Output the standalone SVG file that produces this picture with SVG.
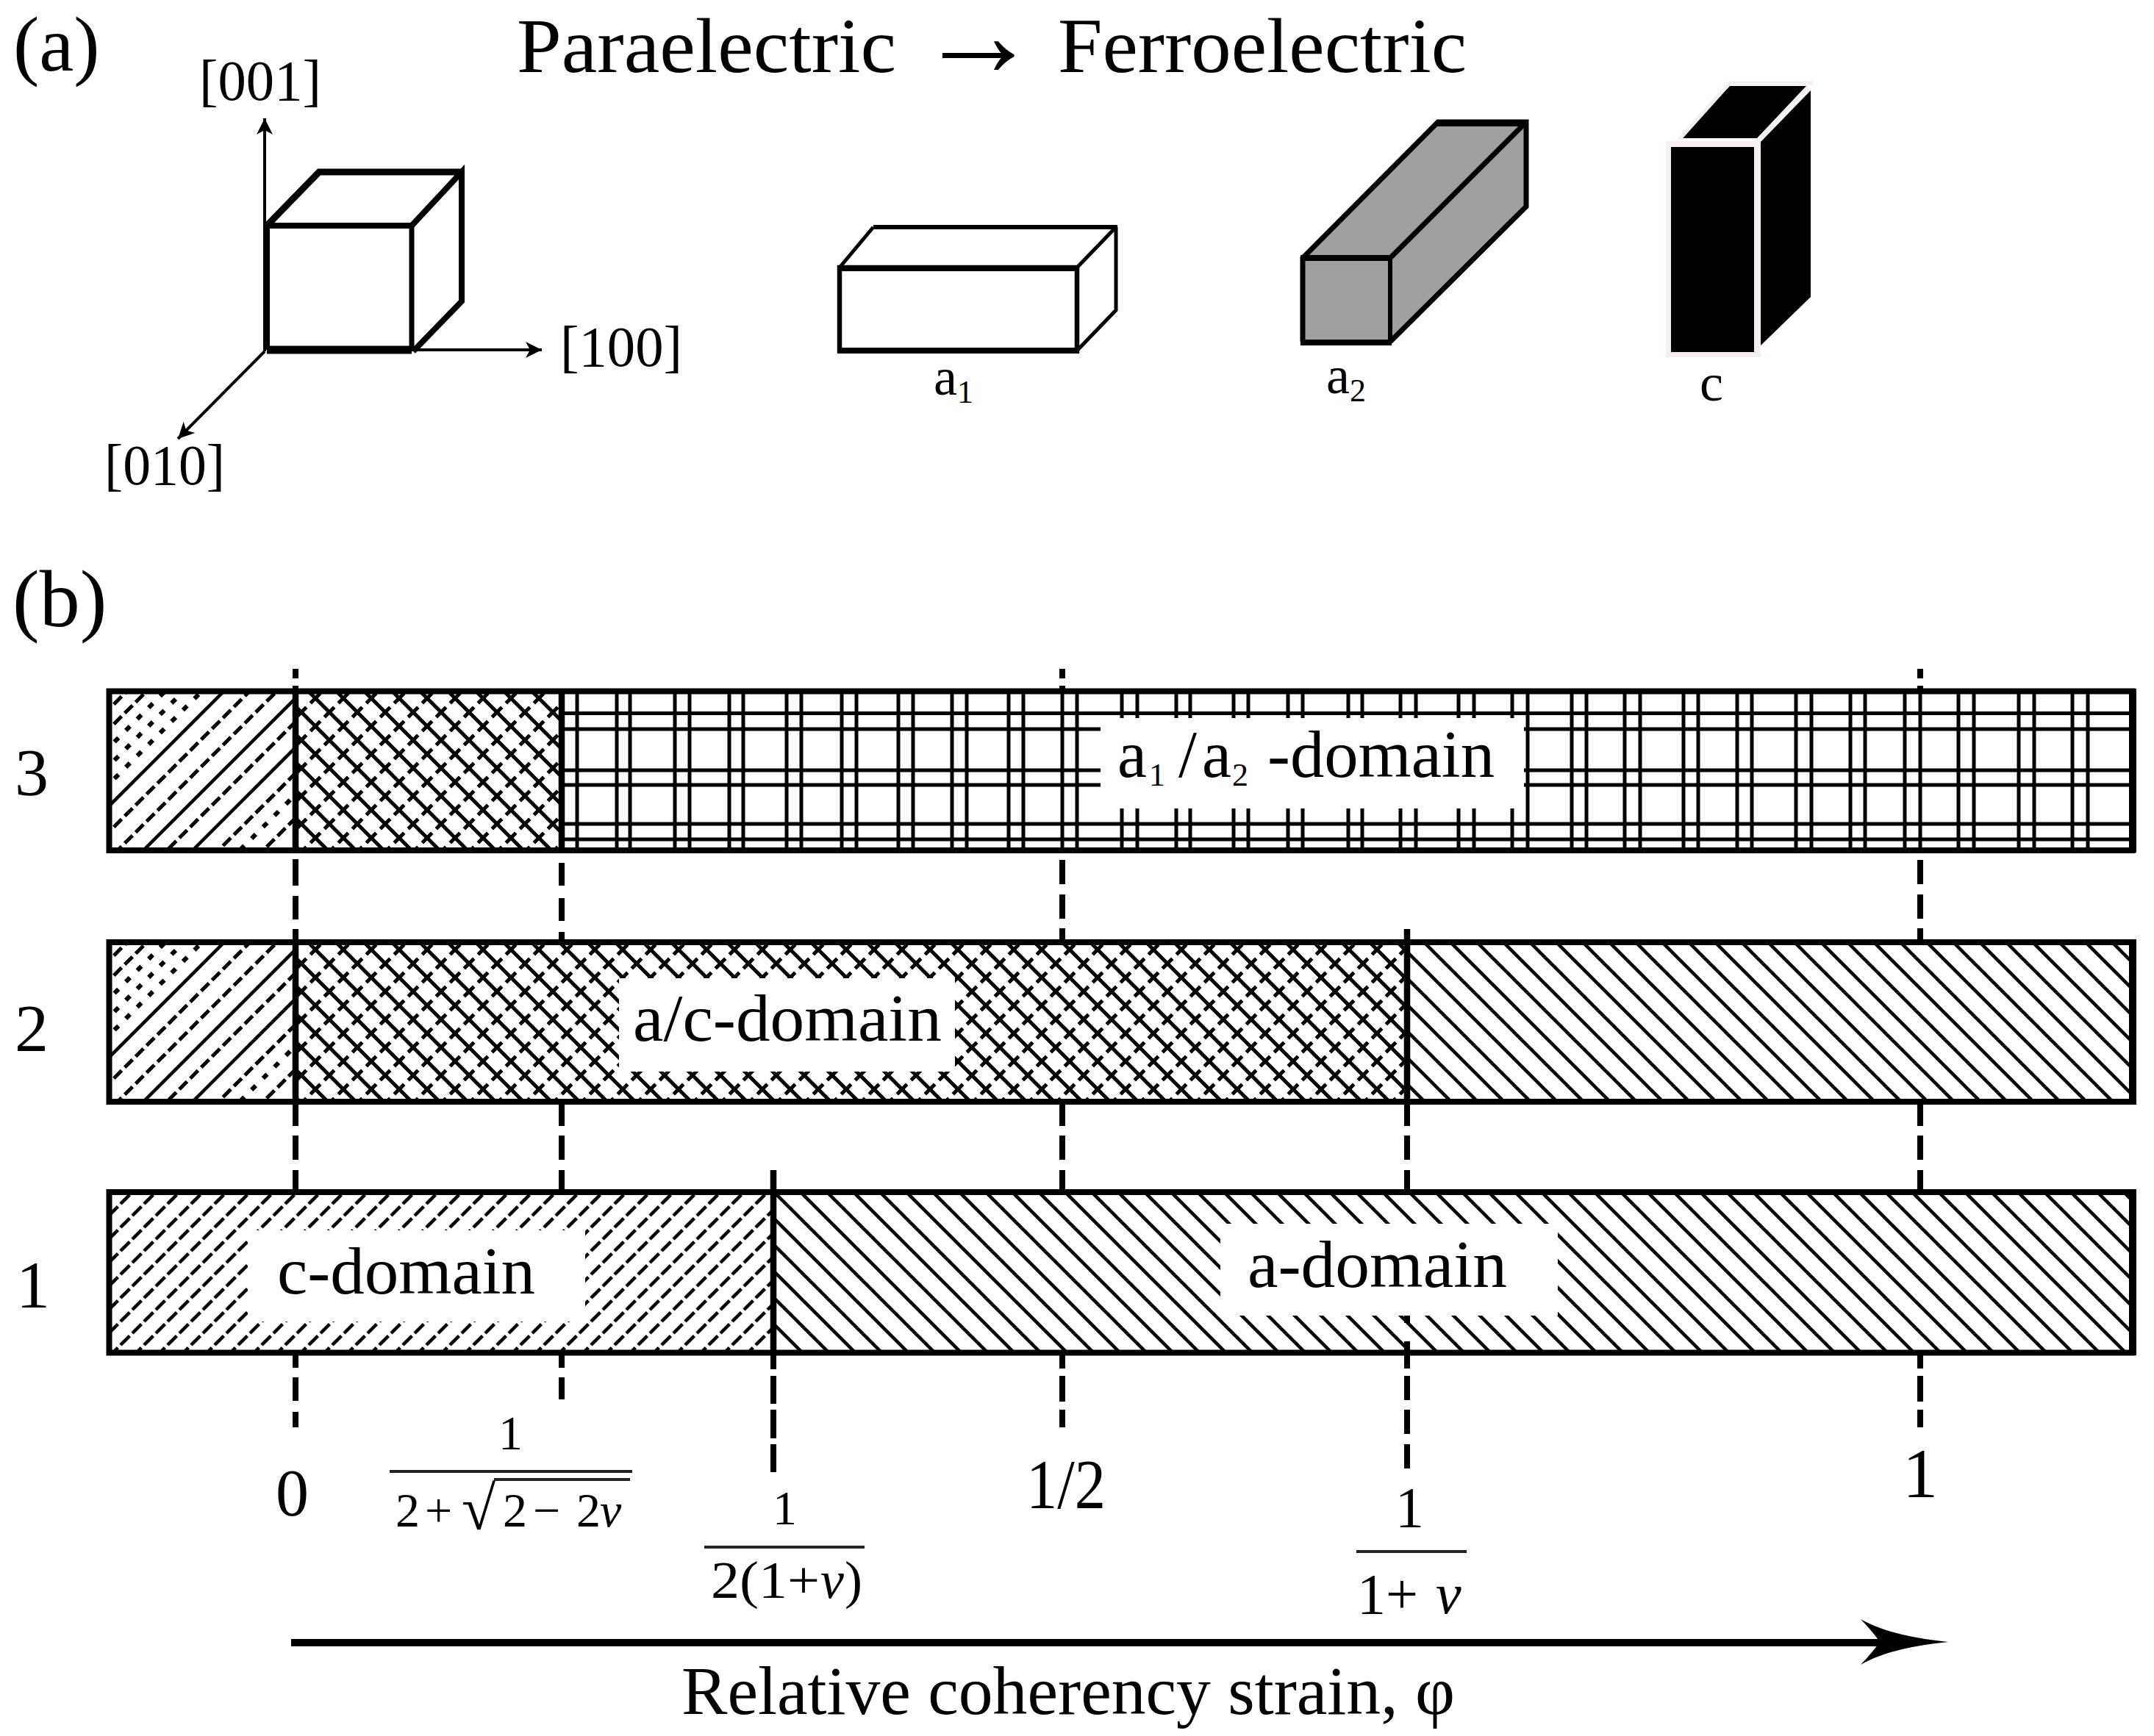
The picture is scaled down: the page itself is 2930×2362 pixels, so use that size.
<svg xmlns="http://www.w3.org/2000/svg" xmlns:xlink="http://www.w3.org/1999/xlink" width="2930" height="2362" viewBox="0 0 2930 2362">
<style>
text{font-family:"Liberation Serif","Times New Roman",serif;fill:#000}
.it{font-style:italic}
.edge{fill:none;stroke:#000;stroke-width:8.5}
.bar{fill:none;stroke:#000;stroke-width:8}
.wh{fill:#fff;stroke:none}
.ax{fill:none;stroke:#000;stroke-width:4}
.grid{fill:none;stroke:#000;stroke-width:5}
.sol{stroke:#000;stroke-width:4.5;fill:none}
.das{stroke:#000;stroke-width:5;fill:none;stroke-dasharray:15 6}
.dot{stroke:#000;stroke-width:6;fill:none;stroke-dasharray:8 14}
.dv{fill:none;stroke:#000;stroke-width:8}
.fr{stroke:#222;stroke-width:4;fill:none}
.cube{stroke:#000;fill:none;stroke-linejoin:miter}
</style>
<defs>
<marker id="tip" markerUnits="userSpaceOnUse" markerWidth="26" markerHeight="26" refX="22" refY="12" orient="auto" viewBox="0 0 26 24"><path d="M0,1 L22,12 L0,23 L6,12z" fill="#000"/></marker>
<pattern id="hBack" width="36" height="36" patternUnits="userSpaceOnUse" patternTransform="translate(7 0)"><path d="M0,0L36,36M-4,32L4,40M32,-4L40,4" stroke="#000" stroke-width="4.5" fill="none"/></pattern>
<pattern id="hFwd" width="32" height="32" patternUnits="userSpaceOnUse" patternTransform="translate(4 6)"><path d="M0,32L32,0" stroke="#000" stroke-width="4.5" fill="none" stroke-dasharray="17.6 5"/><path d="M0,0L4,-4M32,32L36,28" stroke="#000" stroke-width="4.5" fill="none"/></pattern>
<pattern id="hCross" width="38" height="38" patternUnits="userSpaceOnUse" patternTransform="translate(11 0)"><path d="M0,0L38,38M-4,34L4,42M34,-4L42,4" stroke="#000" stroke-width="5" fill="none"/><path d="M0,38L38,0" stroke="#000" stroke-width="5" fill="none" stroke-dasharray="19 7.87" stroke-dashoffset="9.5"/><path d="M-4,4L4,-4M34,42L42,34" stroke="#000" stroke-width="5" fill="none"/></pattern>
<clipPath id="leftClip"><rect x="152" y="944" width="246" height="209"/></clipPath>
<g id="leftHatch" clip-path="url(#leftClip)">
<path class="das" d="M140,973L410,703M140,1000L410,730"/>
<path class="dot" d="M140,1025L410,755M140,1050L410,780M140,1075L410,805"/>
<path class="sol" d="M140,1105L410,835"/>
<path class="das" d="M140,1140L410,870M140,1177L410,907"/>
<path class="sol" d="M140,1212L410,942"/>
<path class="das" d="M140,1244L410,974"/>
<path class="sol" d="M140,1279L410,1009"/>
<path class="das" d="M140,1314L410,1044"/>
<path class="dot" d="M140,1343L410,1073"/>
<path class="das" d="M140,1375L410,1105"/>
</g>
</defs>
<rect width="2930" height="2362" fill="#fff"/>

<g id="panel-a-labels">
<text x="18" y="96" font-size="106">(a)</text>
<text x="703" y="98" font-size="106" textLength="516" lengthAdjust="spacingAndGlyphs">Paraelectric</text>
<text x="1248" y="103" font-size="165" textLength="165" lengthAdjust="spacingAndGlyphs">→</text>
<text x="1439" y="98" font-size="106" textLength="556" lengthAdjust="spacingAndGlyphs">Ferroelectric</text>
</g>

<g id="connectors">
<path class="ax" d="M360,478V161" marker-end="url(#tip)"/>
<path class="ax" d="M556,476H737" marker-end="url(#tip)"/>
<path class="ax" d="M360,478L242,597" marker-end="url(#tip)"/>
<path id="strain-axis" d="M396,2235H2560" stroke="#000" stroke-width="10" fill="none"/>
<path id="strain-head" d="M2531,2203Q2570,2226 2650,2234Q2570,2242 2531,2265Q2548,2247 2557,2234Q2548,2221 2531,2203z" fill="#000"/>
<path class="dv" d="M402,910V923M402,933V940M402,1169V1205M402,1219V1251M402,1264V1282M402,1499V1532M402,1545V1578M402,1592V1622M402,1841V1861M402,1874V1906M402,1921V1942"/>
<path class="dv" d="M764,1174V1205M764,1222V1253M764,1268V1282M764,1499V1532M764,1545V1578M764,1592V1622M764,1841V1861M764,1874V1904"/>
<path class="dv" d="M1445,910V923M1445,933V940M1445,1170V1203M1445,1217V1250M1445,1263V1282M1445,1499V1532M1445,1545V1578M1445,1592V1622M1445,1841V1862M1445,1872V1907M1445,1918V1942"/>
<path class="dv" d="M2612,910V923M2612,933V940M2612,1170V1203M2612,1217V1250M2612,1263V1282M2612,1499V1532M2612,1545V1578M2612,1592V1622M2612,1841V1862M2612,1872V1907M2612,1918V1942"/>
<path class="dv" d="M1914,1499V1532M1914,1545V1578M1914,1592V1622M1914,1790V1800M1914,1825V1841M1914,1841V1862M1914,1872V1905M1914,1918V1951M1914,1965V1998"/>
<path class="dv" d="M1052,1841V1863M1052,1872V1910M1052,1918V1957M1052,1965V2003"/>
</g>

<g id="cube-paraelectric">
<path class="cube" stroke-width="8" d="M363,476V307H560"/>
<path class="cube" stroke-width="7" d="M560,307V476"/>
<path class="cube" stroke-width="11" d="M363,476H560"/>
<path class="cube" stroke-width="9" d="M363,307L434,234H628"/>
<path class="cube" stroke-width="8" d="M560,307L628,234V410L562,478"/>
</g>
<text id="label-001" x="271" y="136" font-size="78" textLength="166" lengthAdjust="spacingAndGlyphs">[001]</text>
<text id="label-100" x="762" y="498" font-size="78" textLength="166" lengthAdjust="spacingAndGlyphs">[100]</text>
<text id="label-010" x="142" y="659" font-size="78" textLength="164" lengthAdjust="spacingAndGlyphs">[010]</text>

<g id="cell-a1">
<path class="cube" stroke-width="5" d="M1142,364L1188,309M1518,309V422L1465,477M1465,364L1518,309"/>
<path class="cube" stroke-width="6" d="M1188,309H1520"/>
<rect x="1142" y="364" width="323" height="113" fill="none" stroke="#000" stroke-width="6.5"/>
<path stroke="#000" stroke-width="8" d="M1139,365H1468M1139,477H1468"/>
<text x="1270" y="537" font-size="72">a</text><text x="1302" y="548" font-size="44">1</text>
</g>

<g id="cell-a2">
<path d="M1772,351L1956,166H2076V281L1891,465H1772z" fill="#a0a0a0"/>
<path class="cube" stroke-width="7" d="M1772,465V351L1956,166H2076V281L1891,465M1891,351L2076,166"/>
<path class="cube" stroke-width="6" d="M1772,351H1891V465"/>
<path stroke="#000" stroke-width="8" d="M1769,466H1893M1769,351H1893M1953,168H2078"/>
<text x="1804" y="535" font-size="72">a</text><text x="1836" y="546" font-size="44">2</text>
</g>

<g id="cell-c">
<path d="M2266,192H2395V486H2266z" fill="#f5efef"/>
<path d="M2353,117H2457L2390,188H2284z" fill="#000"/>
<path d="M2273,200H2386V479H2273z" fill="#000"/>
<path d="M2395,193L2463,123V404L2395,470z" fill="#000"/>
<path d="M2284,190L2353,113H2466M2460,118L2392,190M2390,190V478" fill="none" stroke="#f5efef" stroke-width="5"/>
<text x="2312" y="545" font-size="72">c</text>
</g>

<text id="panel-b" x="17" y="852" font-size="110">(b)</text>

<g id="bar-3">
<use xlink:href="#leftHatch" href="#leftHatch"/>
<rect x="406" y="944" width="354" height="209" fill="url(#hCross)"/>
<path class="grid" d="M764,970.5H2896M764,992H2896M764,1048H2896M764,1068H2896M764,1121H2896M764,1142H2896"/>
<path class="grid" d="M785,944V1153M839,944V1153M857,944V1153M918,944V1153M938,944V1153M992,944V1153M1011,944V1153M1070,944V1153M1090,944V1153M1145,944V1153M1165,944V1153M1222,944V1153M1242,944V1153M1295,944V1153M1315,944V1153M1372,944V1153M1392,944V1153M1445,944V1153M1465,944V1153M1526,944V1153M1547,944V1153M1600,944V1153M1619,944V1153M1678,944V1153M1698,944V1153M1752,944V1153M1772,944V1153M1834,944V1153M1853,944V1153M1905,944V1153M1926,944V1153M1984,944V1153M2005,944V1153M2057,944V1153M2078,944V1153M2138,944V1153M2158,944V1153M2210,944V1153M2231,944V1153M2290,944V1153M2310,944V1153M2363,944V1153M2383,944V1153M2443,944V1153M2464,944V1153M2517,944V1153M2537,944V1153M2591,944V1153M2612,944V1153M2664,944V1153M2685,944V1153M2746,944V1153M2767,944V1153M2819,944V1153M2840,944V1153"/>
<rect class="wh" x="1497" y="977" width="576" height="123"/>
<rect class="bar" x="148.5" y="940.5" width="2752" height="216.5"/>
<path d="M2901,937V1160" stroke="#000" stroke-width="10"/>
<path class="edge" d="M402,940V1157M764,940V1157"/>
<text x="1520" y="1057" font-size="90">a</text><text x="1563" y="1069" font-size="44">1</text><text x="1603" y="1057" font-size="90">/</text><text x="1635" y="1057" font-size="90">a</text><text x="1676" y="1069" font-size="44">2</text><text x="1724" y="1057" font-size="90" textLength="309" lengthAdjust="spacingAndGlyphs">-domain</text>
<text x="20" y="1082" font-size="92">3</text>
</g>

<g id="bar-2">
<use xlink:href="#leftHatch" href="#leftHatch" transform="translate(0 342)"/>
<rect x="406" y="1286" width="1504" height="209" fill="url(#hCross)"/>
<rect x="1918" y="1286" width="978" height="209" fill="url(#hBack)"/>
<rect class="wh" x="842" y="1331" width="457" height="127"/>
<rect class="bar" x="148.5" y="1282" width="2752" height="217"/>
<path d="M2901,1278V1503" stroke="#000" stroke-width="10"/>
<path class="edge" d="M402,1282V1499M1914,1264V1499"/>
<text x="861" y="1416" font-size="90" textLength="420" lengthAdjust="spacingAndGlyphs">a/c-domain</text>
<text x="20" y="1430" font-size="92">2</text>
</g>

<g id="bar-1">
<rect x="152" y="1626" width="896" height="211" fill="url(#hFwd)"/>
<rect x="1056" y="1626" width="1840" height="211" fill="url(#hBack)"/>
<rect class="wh" x="337" y="1674" width="459" height="124"/>
<rect class="wh" x="1660" y="1665" width="459" height="125"/>
<rect class="bar" x="148.5" y="1622" width="2752" height="218.5"/>
<path d="M2901,1618V1844" stroke="#000" stroke-width="10"/>
<path class="edge" d="M1052,1592V1841"/>
<text x="377" y="1760" font-size="90" textLength="351" lengthAdjust="spacingAndGlyphs">c-domain</text>
<text x="1697" y="1751" font-size="90" textLength="353" lengthAdjust="spacingAndGlyphs">a-domain</text>
<text x="22" y="1779" font-size="92">1</text>
</g>

<g id="axis-ticks">
<text x="375" y="2062" font-size="90">0</text>
<g id="frac-1">
<text x="678" y="1972" font-size="66">1</text>
<path class="fr" d="M530,2002H860M672,2013H857"/>
<text x="538" y="2077" font-size="66">2</text><text x="578" y="2077" font-size="66">+</text><text x="628" y="2081" font-size="84">√</text><text x="684" y="2077" font-size="66">2</text><text x="725" y="2077" font-size="66">−</text><text x="784" y="2077" font-size="66">2</text><text class="it" x="816" y="2077" font-size="66">ν</text>
</g>
<g id="frac-2">
<text x="1051" y="2074" font-size="66">1</text>
<path class="fr" d="M958,2105H1176"/>
<text x="967" y="2174" font-size="72" textLength="148" lengthAdjust="spacingAndGlyphs">2(1+</text><text class="it" x="1116" y="2174" font-size="72">ν</text><text x="1149" y="2174" font-size="72">)</text>
</g>
<text x="1396" y="2052" font-size="96" textLength="108" lengthAdjust="spacingAndGlyphs">1/2</text>
<g id="frac-3">
<text x="1898" y="2077" font-size="78">1</text>
<path class="fr" d="M1845,2111H1995"/>
<text x="1846" y="2195" font-size="78">1+</text><text class="it" x="1953" y="2195" font-size="78">ν</text>
</g>
<text x="2588" y="2037" font-size="96">1</text>
</g>
<text id="axis-title" x="927" y="2332" font-size="94" textLength="1052" lengthAdjust="spacingAndGlyphs">Relative coherency strain, φ</text>
</svg>
